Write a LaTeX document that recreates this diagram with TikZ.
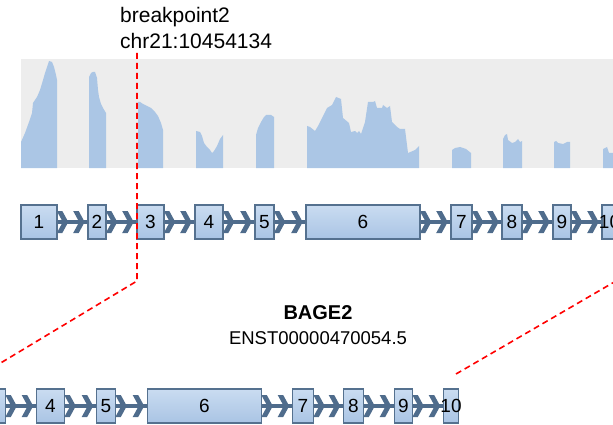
\documentclass[tikz,border=0pt]{standalone}
\usepackage{fontspec}
\setmainfont{Liberation Sans}
\usetikzlibrary{decorations.markings}
\pgfdeclarelayer{background}
\pgfsetlayers{background,main}
\definecolor{covbg}{HTML}{EDEDED}
\definecolor{covfill}{HTML}{ABC6E5}
\definecolor{introncol}{HTML}{4F6C8C}
\definecolor{exonborder}{HTML}{55718F}
\definecolor{exontop}{HTML}{CADCF1}
\definecolor{exonbot}{HTML}{A9C4E4}
\definecolor{bpred}{HTML}{FF0000}
\newcommand\chevmark{\fill[introncol] (0.5,0) -- (-5.5,-11) -- (-11,-11) -- (-5,0) -- (-11,11) -- (-5.5,11) -- cycle;}
\tikzset{
  exon/.style={draw=exonborder, line width=1.6pt, top color=exontop, bottom color=exonbot,
    minimum height=34pt, inner sep=0pt, text=black, font=\fontsize{19}{22}\selectfont},
  intronline/.style={draw=introncol, line width=4pt, postaction={decorate},
    decoration={markings, mark=at position 10pt with {\chevmark}, mark=at position -3pt with {\chevmark}}},
  bpline/.style={draw=bpred, line width=1.6pt, dash pattern=on 6pt off 4pt},
  covpeak/.style={fill=covfill, draw=none},
  labeltext/.style={inner sep=0pt, text=black}
}
\begin{document}
\begin{tikzpicture}[x=1pt,y=-1pt]
\useasboundingbox (0,0) rectangle (613,425);
\clip (0,0) rectangle (613,425);
% coverage panel
\fill[covbg] (21,59) rectangle (613,168);
\fill[covpeak] (21,168) -- (21,142) -- (25,133) -- (29,122) -- (32,113) -- (33,103) -- (37,97) -- (40,90) -- (43,80) -- (45,73) -- (47,67) -- (49,61) -- (52,62) -- (54,67) -- (56,75) -- (57,80) -- (57,168) -- cycle;
\fill[covpeak] (89,168) -- (89,77) -- (91,73) -- (93,72) -- (95,72) -- (97,78) -- (98,90) -- (99,97) -- (101,104) -- (103,108) -- (106,113) -- (106,168) -- cycle;
\fill[covpeak] (138,168) -- (138,102) -- (140,102) -- (143,104) -- (147,106) -- (151,108) -- (155,112) -- (158,116) -- (161,123) -- (163,130) -- (163,168) -- cycle;
\fill[covpeak] (196,168) -- (196,131) -- (200,132) -- (202,136) -- (204,143) -- (207,147) -- (210,150) -- (212,153) -- (214,151) -- (217,146) -- (220,139) -- (223,135) -- (223,168) -- cycle;
\fill[covpeak] (256,168) -- (256,135) -- (258,128) -- (261,122) -- (264,117) -- (266,115) -- (271,115) -- (274,117) -- (274,168) -- cycle;
\fill[covpeak] (307,168) -- (307,126) -- (310,127) -- (315,131) -- (318,126) -- (322,118) -- (327,108) -- (332,105) -- (336,97) -- (341,99) -- (343,118) -- (349,123) -- (351,132) -- (355,131) -- (357,133) -- (359,131) -- (361,134) -- (365,122) -- (368,102) -- (373,102) -- (375,101) -- (377,108) -- (382,108) -- (383,105) -- (387,108) -- (390,106) -- (392,122) -- (397,127) -- (400,129) -- (405,129) -- (408,153) -- (415,150) -- (419,146) -- (419,168) -- cycle;
\fill[covpeak] (452,168) -- (452,150) -- (455,148) -- (460,147) -- (466,149) -- (471,153) -- (471,168) -- cycle;
\fill[covpeak] (503,168) -- (503,139) -- (505,135) -- (507,134) -- (508,140) -- (512,143) -- (515,142) -- (518,139) -- (520,142) -- (522,141) -- (522,168) -- cycle;
\fill[covpeak] (554,168) -- (554,142) -- (556,141) -- (558,143) -- (563,144) -- (567,142) -- (570,142) -- (570,168) -- cycle;
\fill[covpeak] (603,168) -- (603,149) -- (607,147) -- (609,153) -- (613,153) -- (620,153) -- (620,168) -- cycle;
% top exons
\node[exon, minimum width=36pt]  (e1)  at (39,222)    {1};
\node[exon, minimum width=18pt]  (e2)  at (97,222)    {2};
\node[exon, minimum width=27pt]  (e3)  at (150.5,222) {3};
\node[exon, minimum width=28pt]  (e4)  at (209,222)   {4};
\node[exon, minimum width=19pt]  (e5)  at (264.5,222) {5};
\node[exon, minimum width=114pt] (e6)  at (363,222)   {6};
\node[exon, minimum width=21pt]  (e7)  at (461.5,222) {7};
\node[exon, minimum width=20pt]  (e8)  at (512,222)   {8};
\node[exon, minimum width=18pt]  (e9)  at (562,222)   {9};
\node[exon, minimum width=15pt]  (e10) at (609.5,222) {\makebox[0pt]{10}};
% bottom exons
\node[exon, minimum width=27pt]  (f3)  at (-8,406)    {};
\node[exon, minimum width=28pt]  (f4)  at (50.5,406)  {4};
\node[exon, minimum width=19pt]  (f5)  at (106,406)   {5};
\node[exon, minimum width=114pt] (f6)  at (204.5,406) {6};
\node[exon, minimum width=21pt]  (f7)  at (303,406)   {7};
\node[exon, minimum width=20pt]  (f8)  at (353.5,406) {8};
\node[exon, minimum width=18pt]  (f9)  at (403.5,406) {9};
\node[exon, minimum width=15pt]  (f10) at (451,406)   {\makebox[0pt]{10}};
% introns
\begin{pgfonlayer}{background}
\foreach \a/\b in {e1/e2,e2/e3,e3/e4,e4/e5,e5/e6,e6/e7,e7/e8,e8/e9,e9/e10,f3/f4,f4/f5,f5/f6,f6/f7,f7/f8,f8/f9,f9/f10}
  \draw[intronline] (\a.east) -- (\b.west);
\end{pgfonlayer}
% texts
\node[labeltext, anchor=base west, font=\fontsize{21}{25}\selectfont] (bp)  at (120,23) {breakpoint2};
\node[labeltext, anchor=base west, font=\fontsize{21}{25}\selectfont] (chr) at (120,49) {chr21:10454134};
\node[labeltext, anchor=base, font=\bfseries\fontsize{20}{24}\selectfont] (gene) at (318,319) {BAGE2};
\node[labeltext, anchor=base, font=\fontsize{18.5}{22}\selectfont] (tx) at (318,344) {ENST00000470054.5};
% breakpoint lines
\coordinate (bpTop) at (137,53);
\coordinate (bpBend) at (137,281);
\coordinate (bpLow) at (-21,376);
\coordinate (bpRBend) at (616,281);
\coordinate (bpRLow) at (456,374);
\draw[bpline] (bpTop) -- (bpBend) -- (bpLow);
\draw[bpline] (bpRLow) -- (bpRBend);
\end{tikzpicture}
\end{document}
